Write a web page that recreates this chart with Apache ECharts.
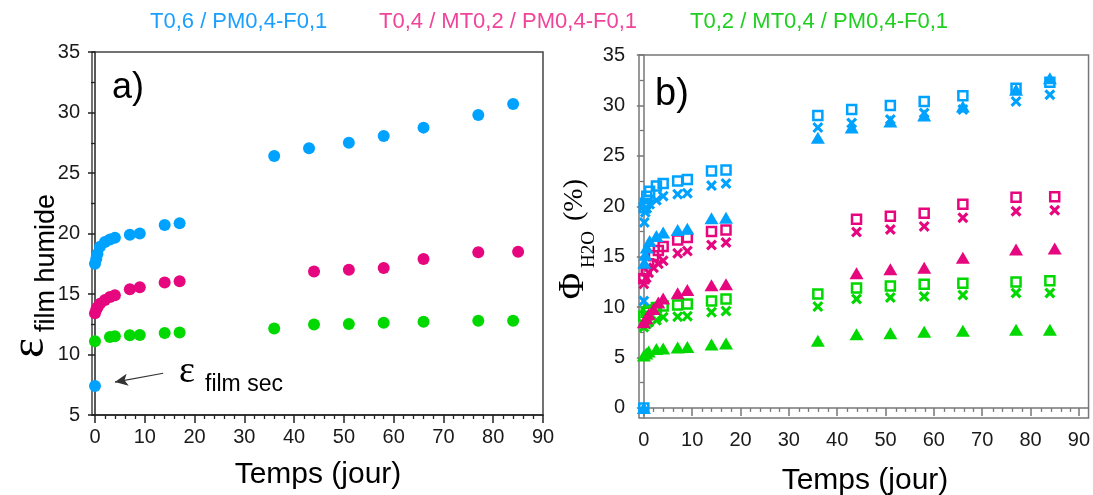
<!DOCTYPE html>
<html><head><meta charset="utf-8">
<script src="https://cdn.jsdelivr.net/npm/echarts@6/dist/echarts.min.js"></script>
<style>html,body{margin:0;padding:0;background:#fff}#c{width:1093px;height:495px}</style>
</head><body><div id="c"></div>
<script>
// ---------- data ----------
const xTickLabels = [0,10,20,30,40,50,60,70,80,90];
const yTickLabelsA = [5,10,15,20,25,30,35];
const yTickLabelsB = [0,5,10,15,20,25,30,35];
const legendLabels = ['T0,6 / PM0,4-F0,1','T0,4 / MT0,2 / PM0,4-F0,1','T0,2 / MT0,4 / PM0,4-F0,1'];

// panel a : epsilon film humide
const tA_blue  = [0,0.25,0.5,1,2,3,4,7,9,14,17,36,43,51,58,66,77,84];
const epsBlue  = [17.5,17.9,18.3,18.9,19.3,19.5,19.65,19.9,20.0,20.7,20.85,26.4,27.05,27.5,28.05,28.75,29.8,30.7];
const tA_pink  = [0,0.25,0.5,1,2,3,4,7,9,14,17,44,51,58,66,77,85];
const epsPink  = [13.4,13.7,13.9,14.2,14.5,14.75,14.9,15.4,15.55,15.95,16.05,16.85,17.0,17.15,17.9,18.45,18.5];
const tA_green = [0,3,4,7,9,14,17,36,44,51,58,66,77,84];
const epsGreen = [11.1,11.45,11.5,11.6,11.62,11.77,11.82,12.15,12.48,12.53,12.62,12.7,12.78,12.78];
const tDry = [0];
const epsDry = [7.4];

// panel b : Phi H2O (%)
const tB_blue    = [0,0.1,0.3,0.6,1.2,2.6,4,7,9,14,17,36,43,51,58,66,77,84];
const phiBlueSq  = [0,19.85,20.3,21.0,21.5,22.0,22.25,22.5,22.65,23.5,23.6,29.0,29.6,30.0,30.4,30.96,31.7,32.3];
const phiBlueX   = [10.6,18.4,19.4,19.8,20.2,20.6,21.0,21.2,21.3,22.05,22.25,27.8,28.25,28.6,29.25,29.6,30.4,31.06];
const phiBlueTri = [0,14.4,15.2,15.9,16.55,17.05,17.4,17.64,17.77,18.8,18.86,26.8,27.8,28.4,29.0,29.9,31.55,32.7];
const tB_pink    = [0,0.5,1,2,3,4,7,9,14,17,44,51,58,66,77,85];
const phiPinkSq  = [12.8,13.6,14.3,15.1,15.6,16.0,16.65,16.9,17.5,17.65,18.7,19.0,19.3,20.2,20.9,20.94];
const phiPinkX   = [12.3,12.9,13.4,13.9,14.3,14.6,15.33,15.55,16.15,16.4,17.45,17.7,18.0,18.86,19.5,19.6];
const phiPinkTri = [8.5,8.9,9.3,9.8,10.45,10.85,11.37,11.7,12.17,12.27,13.35,13.75,13.9,14.9,15.7,15.8];
const tB_green   = [0,0.5,1,2.6,4,7,9,14,17,36,44,51,58,66,77,84];
const phiGreenSq = [9.1,9.5,9.7,9.95,10.1,10.2,10.3,10.6,10.8,11.3,11.9,12.1,12.26,12.36,12.5,12.6];
const phiGreenX  = [8.0,8.3,8.5,8.7,9.0,9.05,9.1,9.5,9.6,10.05,10.8,10.95,11.05,11.2,11.4,11.4];
const phiGreenTri= [5.2,5.4,5.6,5.85,5.9,6.0,6.05,6.3,6.4,6.65,7.3,7.4,7.55,7.65,7.75,7.75];

// ---------- styles ----------
const BLUE='#00a2ff', PINK='#e6067e', GREEN='#00d800';
const CROSS='path://M0,2L2,0L5,3L8,0L10,2L7,5L10,8L8,10L5,7L2,10L0,8L3,5Z';
const zip=(t,v)=>t.map((x,i)=>[x,v[i]]);
const range=(a,b,s)=>{const r=[];for(let v=a;v<=b+1e-9;v+=s)r.push(+v.toFixed(3));return r;};
const minorX = range(0,90,2).filter(v=>v%10!==0);
const minorYa = range(7.5,32.5,5);
const minorYb = range(2.5,32.5,5);
const LBL={fontFamily:'Liberation Sans',fontSize:20,color:'#1a1a1a'};

const GA={left:92,top:52,width:451,height:363};
const GB={left:639,top:55,width:451,height:363};

function majX(grid,min,max,col){
  return {type:'value',gridIndex:grid,min:min,max:max,position:'bottom',
     axisLine:{show:true,lineStyle:{color:col,width:1.5}},
     axisTick:{show:true,length:8,customValues:xTickLabels,lineStyle:{color:col,width:1.5}},
     axisLabel:Object.assign({margin:12,customValues:xTickLabels},LBL),splitLine:{show:false}};
}
function minX(grid,min,max,col){
  return {type:'value',gridIndex:grid,min:min,max:max,position:'bottom',
     axisLine:{show:false},axisLabel:{show:false},splitLine:{show:false},
     axisTick:{show:true,length:4,customValues:minorX,lineStyle:{color:col,width:1.3}}};
}
function majY(grid,min,max,major,col,margin){
  return {type:'value',gridIndex:grid,min:min,max:max,position:'left',
     axisLine:{show:true,lineStyle:{color:col,width:1.5}},
     axisTick:{show:true,length:7,customValues:major,lineStyle:{color:col,width:1.5}},
     axisLabel:Object.assign({margin:margin,customValues:major},LBL),splitLine:{show:false}};
}
function minY(grid,min,max,minor,col){
  return {type:'value',gridIndex:grid,min:min,max:max,position:'left',
     axisLine:{show:false},axisLabel:{show:false},splitLine:{show:false},
     axisTick:{show:true,length:4,customValues:minor,lineStyle:{color:col,width:1.3}}};
}
function sc(name,xi,yi,data,symbol,size,color,hollow){
  return {type:'scatter',name:name,xAxisIndex:xi,yAxisIndex:yi,data:data,symbol:symbol,symbolSize:size,
    itemStyle:hollow?{color:'rgba(255,255,255,0)',borderColor:color,borderWidth:2.5,opacity:1}:{color:color,opacity:1},
    emphasis:{disabled:true},animation:false,z:3};
}

const chart=echarts.init(document.getElementById('c'),null,{renderer:'canvas'});
const option={
  backgroundColor:'#fff',
  animation:false,
  grid:[
    Object.assign({show:true,borderColor:'#444',borderWidth:1.5,backgroundColor:'transparent'},GA),
    Object.assign({show:true,borderColor:'#777',borderWidth:1.5,backgroundColor:'transparent'},GB),
    Object.assign({show:false},GA),
    Object.assign({show:false},GB)
  ],
  xAxis:[majX(0,-0.6,90,'#222'),majX(1,-1,92,'#777'),minX(2,-0.6,90,'#222'),minX(3,-1,92,'#777')],
  yAxis:[majY(0,5,35,yTickLabelsA,'#222',12),majY(1,-1,35,yTickLabelsB,'#777',14),minY(2,5,35,minorYa,'#222'),minY(3,-1,35,minorYb,'#777')],
  series:[
    sc('a_blue',0,0,zip(tA_blue,epsBlue),'circle',12,BLUE),
    sc('a_pink',0,0,zip(tA_pink,epsPink),'circle',12,PINK),
    sc('a_green',0,0,zip(tA_green,epsGreen),'circle',12,GREEN),
    Object.assign(sc('a_dry',0,0,zip(tDry,epsDry),'circle',12,BLUE),{
      markLine:{silent:true,symbol:['none','arrow'],symbolSize:[9,13],
        lineStyle:{color:'#333',width:1.2,type:'solid',opacity:1},label:{show:false},
        data:[[{coord:[13.7,8.45]},{coord:[4.0,7.72]}]]}
    }),
    sc('b_green_tri',1,1,zip(tB_green,phiGreenTri),'triangle',[14,12],GREEN),
    sc('b_green_x',1,1,zip(tB_green,phiGreenX),CROSS,11,GREEN),
    sc('b_green_sq',1,1,zip(tB_green,phiGreenSq),'rect',9,GREEN,true),
    sc('b_pink_tri',1,1,zip(tB_pink,phiPinkTri),'triangle',[14,12],PINK),
    sc('b_pink_x',1,1,zip(tB_pink,phiPinkX),CROSS,11,PINK),
    sc('b_pink_sq',1,1,zip(tB_pink,phiPinkSq),'rect',9,PINK,true),
    sc('b_blue_tri',1,1,zip(tB_blue,phiBlueTri),'triangle',[14,12],BLUE),
    sc('b_blue_x',1,1,zip(tB_blue,phiBlueX),CROSS,11,BLUE),
    sc('b_blue_sq',1,1,zip(tB_blue,phiBlueSq),'rect',9,BLUE,true)
  ],
  graphic:[
    {type:'text',left:150,top:11,style:{text:legendLabels[0],fill:'#1a9fff',font:'22px "Liberation Sans"'}},
    {type:'text',left:379,top:11,style:{text:legendLabels[1],fill:'#f0449a',font:'22px "Liberation Sans"'}},
    {type:'text',left:690,top:11,style:{text:legendLabels[2],fill:'#1fcf1f',font:'22px "Liberation Sans"'}},
    {type:'text',x:112,y:88,style:{text:'a)',fill:'#000',font:'36px "Liberation Sans"',verticalAlign:'middle'}},
    {type:'text',x:655,y:95,style:{text:'b)',fill:'#000',font:'38px "Liberation Sans"',verticalAlign:'middle'}},
    {type:'text',x:318,y:475,style:{text:'Temps (jour)',fill:'#000',font:'30px "Liberation Sans"',align:'center',verticalAlign:'middle'}},
    {type:'text',x:865,y:481,style:{text:'Temps (jour)',fill:'#000',font:'30px "Liberation Sans"',align:'center',verticalAlign:'middle'}},
    // annotation
    {type:'text',x:187,y:372,style:{text:'ε',fill:'#000',font:'38px "Liberation Serif"',align:'center',verticalAlign:'middle'}},
    {type:'text',x:205,y:385,style:{text:'film sec',fill:'#000',font:'23px "Liberation Sans"',verticalAlign:'middle'}},
    // y title a
    {type:'text',x:30,y:348,rotation:Math.PI/2,style:{text:'ε',fill:'#000',font:'48px "Liberation Serif"',align:'center',verticalAlign:'middle'}},
    {type:'text',x:47,y:332,rotation:Math.PI/2,style:{text:'film humide',fill:'#000',font:'27px "Liberation Sans"',align:'left',verticalAlign:'middle'}},
    // y title b
    {type:'text',x:574,y:286,rotation:Math.PI/2,style:{text:'Φ',fill:'#000',font:'36px "Liberation Serif"',align:'center',verticalAlign:'middle'}},
    {type:'text',x:589,y:268,rotation:Math.PI/2,style:{text:'H2O',fill:'#000',font:'19px "Liberation Serif"',align:'left',verticalAlign:'middle'}},
    {type:'text',x:575,y:200,rotation:Math.PI/2,style:{text:'(%)',fill:'#000',font:'28px "Liberation Serif"',align:'center',verticalAlign:'middle'}}
  ]
};
chart.setOption(option);
</script></body></html>
